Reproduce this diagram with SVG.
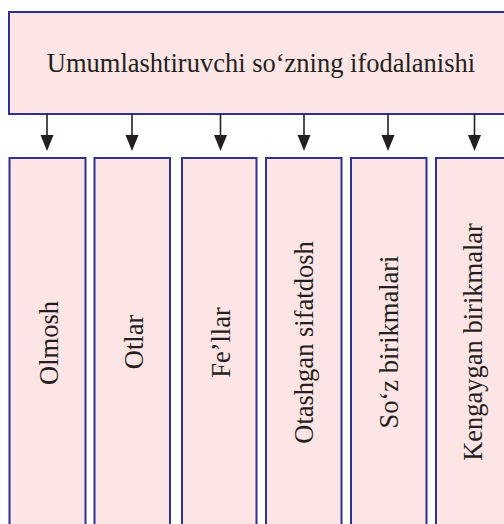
<svg xmlns="http://www.w3.org/2000/svg" width="504" height="524" viewBox="0 0 504 524">
<style>
.box{fill:#fde5e5;stroke:#2e3192;stroke-width:2}
.t{font-family:'Liberation Serif','DejaVu Serif',serif;font-size:26.5px;fill:#231f20;text-anchor:middle}
.c{stroke:#231f20;stroke-width:1.6;fill:none}
</style>
<rect x="0" y="0" width="504" height="524" fill="#fff"/>
<g id="top">
<rect class="box" x="9" y="12" width="505" height="102"/>
<text class="t" x="261" y="72">Umumlashtiruvchi so‘zning ifodalanishi</text>
</g>
<g id="connectors">
<path class="c" d="M47,114 V136"/><path d="M40.5,135 L53.5,135 L47,151 Z" fill="#231f20"/>
<path class="c" d="M132,114 V136"/><path d="M125.5,135 L138.5,135 L132,151 Z" fill="#231f20"/>
<path class="c" d="M220.5,114 V136"/><path d="M214,135 L227,135 L220.5,151 Z" fill="#231f20"/>
<path class="c" d="M304,114 V136"/><path d="M297.5,135 L310.5,135 L304,151 Z" fill="#231f20"/>
<path class="c" d="M388,114 V136"/><path d="M381.5,135 L394.5,135 L388,151 Z" fill="#231f20"/>
<path class="c" d="M474.5,114 V136"/><path d="M468,135 L481,135 L474.5,151 Z" fill="#231f20"/>
</g>
<g id="n1"><rect class="box" x="9.5" y="158" width="76" height="380"/><text class="t" transform="translate(57.5,343) rotate(-90)">Olmosh</text></g>
<g id="n2"><rect class="box" x="94.5" y="158" width="75.5" height="380"/><text class="t" transform="translate(142.5,342) rotate(-90)">Otlar</text></g>
<g id="n3"><rect class="box" x="182" y="158" width="74.5" height="380"/><text class="t" transform="translate(229.5,342.5) rotate(-90)">Fe’llar</text></g>
<g id="n4"><rect class="box" x="266" y="158" width="75.5" height="380"/><text class="t" transform="translate(313,342.5) rotate(-90)">Otashgan sifatdosh</text></g>
<g id="n5"><rect class="box" x="351" y="158" width="75.5" height="380"/><text class="t" transform="translate(398,342) rotate(-90)">So‘z birikmalari</text></g>
<g id="n6"><rect class="box" x="436" y="158" width="80" height="380"/><text class="t" transform="translate(482,342) rotate(-90)">Kengaygan birikmalar</text></g>
</svg>
